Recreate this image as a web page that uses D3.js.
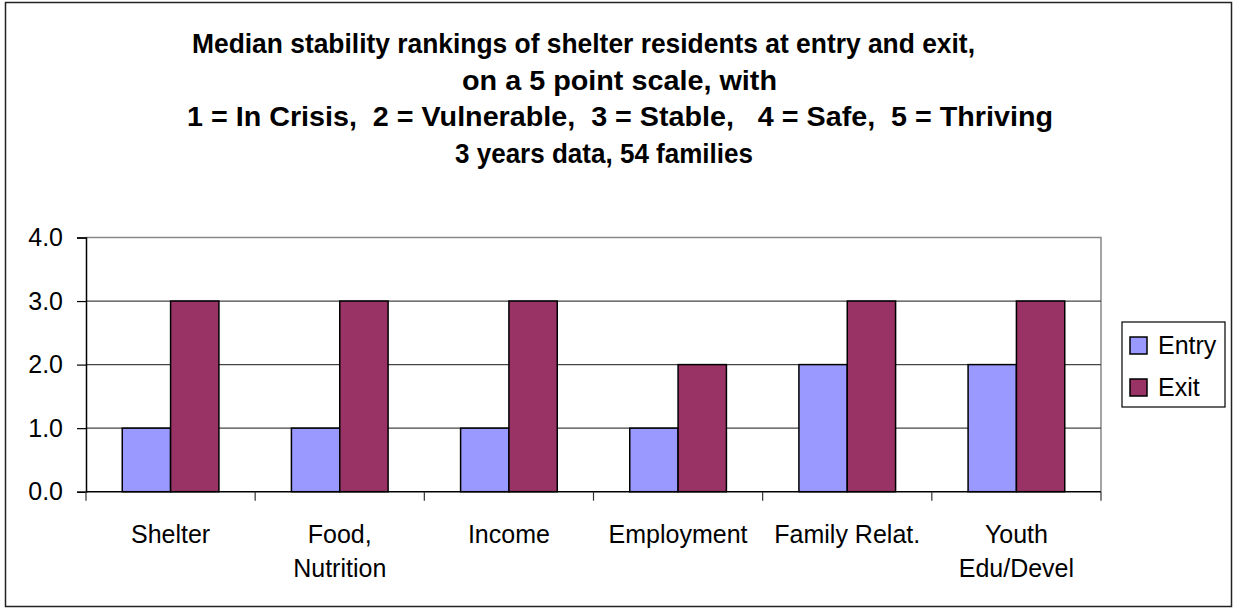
<!DOCTYPE html>
<html>
<head>
<meta charset="utf-8">
<script src="https://cdn.jsdelivr.net/npm/d3@7"></script>
<style>
  body { margin: 0; background: #fff; }
  text { font-family: "Liberation Sans", Arial, sans-serif; }
</style>
</head>
<body>
<div id="canvas"></div>
<script>
"use strict"

/* Data */
let categories = [["Shelter"], ["Food,", "Nutrition"], ["Income"], ["Employment"], ["Family Relat."], ["Youth", "Edu/Devel"]];
let entryValues = [1, 1, 1, 1, 2, 2];
let exitValues = [3, 3, 3, 2, 3, 3];
let seriesNames = ["Entry", "Exit"];
let seriesColors = ["#9999ff", "#993366"];
let yTicks = [0, 1, 2, 3, 4];
let titleLines = [
    "Median stability rankings of shelter residents at entry and exit,",
    "on a 5 point scale, with",
    "1 = In Crisis,  2 = Vulnerable,  3 = Stable,   4 = Safe,  5 = Thriving",
    "3 years data, 54 families"
];

/* Drawing config */
let svgWidth = 1233;
let svgHeight = 609;
let plot = { left: 86, right: 1101, top: 237.5, bottom: 491.7 };

let svg = d3.select("#canvas")
    .append("svg")
    .attr("width", svgWidth)
    .attr("height", svgHeight);

/* Outer chart border */
svg.append("rect")
    .attr("x", 5.5)
    .attr("y", 2.5)
    .attr("width", 1226)
    .attr("height", 604)
    .attr("fill", "white")
    .attr("stroke", "#222")
    .attr("stroke-width", 1.5);

let titleCenters = [583.5, 619.5, 620, 604];
let titleWidths = [783, 315, 866, 298];
svg.append("g")
    .selectAll("text")
    .data(titleLines)
    .join("text")
    .attr("x", (d, i) => titleCenters[i])
    .attr("y", (d, i) => 53 + i * 36.5)
    .attr("text-anchor", "middle")
    .attr("font-size", 27)
    .attr("font-weight", "bold")
    .attr("textLength", (d, i) => titleWidths[i])
    .attr("lengthAdjust", "spacingAndGlyphs")
    .style("white-space", "pre")
    .text(d => d);

/* Scales */
let x0 = d3.scaleBand()
    .domain(d3.range(categories.length))
    .range([plot.left, plot.right])
    .paddingInner(3 / 7)
    .paddingOuter(1.5 / 7);

let x1 = d3.scaleBand()
    .domain(d3.range(seriesNames.length))
    .range([0, x0.bandwidth()]);

let y = d3.scaleLinear()
    .domain([0, 4])
    .range([plot.bottom, plot.top]);

let step = x0.step();
let catStart = i => plot.left + i * step;

/* Plot area border (top and right, gray) */
svg.append("path")
    .attr("d", `M${plot.left},${y(4)}H${plot.right}V${plot.bottom}`)
    .attr("fill", "none")
    .attr("stroke", "#888")
    .attr("stroke-width", 1.5);

/* Gridlines */
svg.append("g")
    .selectAll("line")
    .data(yTicks.filter(t => t > 0 && t < 4))
    .join("line")
    .attr("x1", plot.left)
    .attr("x2", plot.right)
    .attr("y1", d => y(d))
    .attr("y2", d => y(d))
    .attr("stroke", "#444")
    .attr("stroke-width", 1.2);

/* Bars */
let rows = categories.map((c, i) => [entryValues[i], exitValues[i]]);
svg.append("g")
    .selectAll("g")
    .data(rows)
    .join("g")
    .attr("transform", (d, i) => `translate(${x0(i)},0)`)
    .selectAll("rect")
    .data(d => d)
    .join("rect")
    .attr("x", (d, j) => x1(j))
    .attr("y", d => y(d))
    .attr("width", x1.bandwidth())
    .attr("height", d => y(0) - y(d))
    .attr("fill", (d, j) => seriesColors[j])
    .attr("stroke", "black")
    .attr("stroke-width", 1.5);

/* Y axis */
let yAxis = svg.append("g")
    .attr("transform", `translate(${plot.left},0)`)
    .call(d3.axisLeft(y)
        .tickValues(yTicks)
        .tickSize(9)
        .tickPadding(14)
        .tickFormat(d3.format(".1f")));
yAxis.select(".domain").attr("stroke", "black").attr("stroke-width", 1.5);
yAxis.selectAll(".tick line").attr("stroke", "black").attr("stroke-width", 1.2);
yAxis.selectAll(".tick text")
    .attr("font-size", 25)
    .attr("fill", "black")
    .attr("font-family", "Liberation Sans, Arial, sans-serif");

/* X axis: baseline and boundary ticks */
svg.append("line")
    .attr("x1", plot.left)
    .attr("x2", plot.right)
    .attr("y1", y(0))
    .attr("y2", y(0))
    .attr("stroke", "black")
    .attr("stroke-width", 1.5);

svg.append("g")
    .selectAll("line")
    .data(d3.range(categories.length + 1))
    .join("line")
    .attr("x1", i => catStart(i))
    .attr("x2", i => catStart(i))
    .attr("y1", y(0))
    .attr("y2", y(0) + 9)
    .attr("stroke", "#333")
    .attr("stroke-width", 1.2);

/* Category labels */
svg.append("g")
    .selectAll("text")
    .data(categories)
    .join("text")
    .attr("x", (d, i) => x0(i) + x0.bandwidth() / 2)
    .attr("y", 543)
    .attr("text-anchor", "middle")
    .attr("font-size", 25)
    .selectAll("tspan")
    .data(d => d)
    .join("tspan")
    .attr("x", function () { return this.parentNode.getAttribute("x"); })
    .attr("dy", (d, k) => k === 0 ? 0 : 34)
    .text(d => d);

/* Legend */
let legend = svg.append("g");
legend.append("rect")
    .attr("x", 1122)
    .attr("y", 322)
    .attr("width", 103)
    .attr("height", 85)
    .attr("fill", "white")
    .attr("stroke", "black")
    .attr("stroke-width", 1.2);

let legendItems = legend.selectAll("g")
    .data(seriesNames)
    .join("g")
    .attr("transform", (d, i) => `translate(1130,${337 + i * 42})`);

legendItems.append("rect")
    .attr("width", 17)
    .attr("height", 17)
    .attr("fill", (d, i) => seriesColors[i])
    .attr("stroke", "black")
    .attr("stroke-width", 1.5);

legendItems.append("text")
    .attr("x", 28)
    .attr("y", 17)
    .attr("font-size", 25)
    .text(d => d);
</script>
</body>
</html>
